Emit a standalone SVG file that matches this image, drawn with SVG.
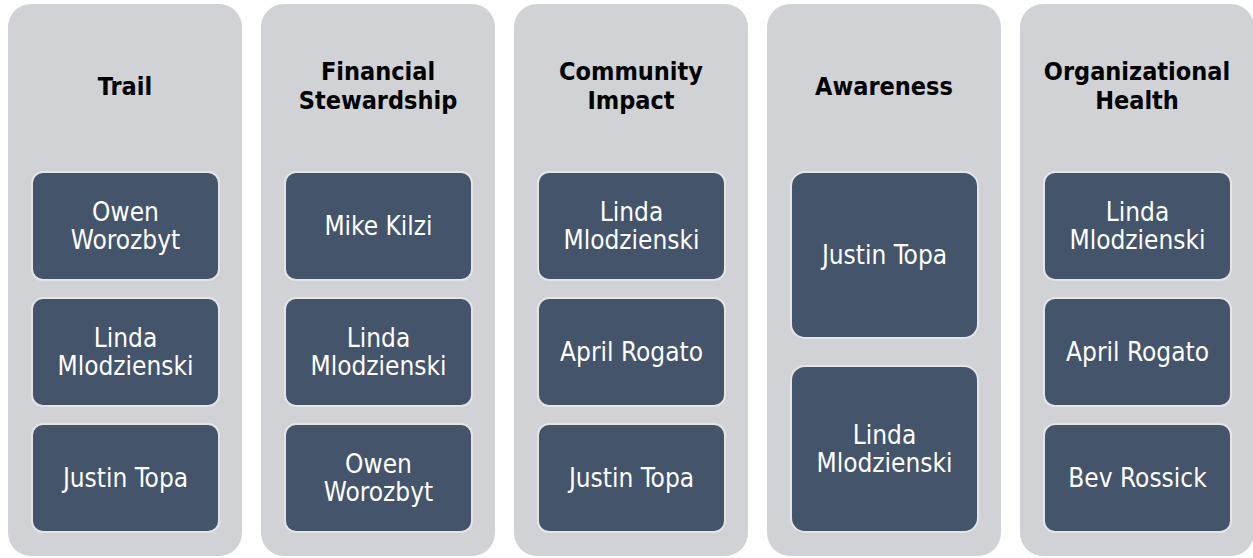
<svg xmlns="http://www.w3.org/2000/svg" width="1253" height="558" viewBox="0 0 1253 558">
<style>
.col{fill:#d0d2d6;}
.box{fill:#44546a;stroke:#e4e5e7;stroke-width:2;}
.title{font-family:"DejaVu Sans Condensed","DejaVu Sans",sans-serif;font-weight:bold;font-size:25px;fill:#000;text-anchor:middle;}
.name{font-family:"DejaVu Sans Condensed","DejaVu Sans",sans-serif;font-size:26px;fill:#fff;text-anchor:middle;}
</style>
<rect width="1253" height="558" fill="#ffffff"/>
<g id="col-trail">
<rect class="col" x="8" y="4" width="234" height="552" rx="23"/>
<text class="title" x="125" y="95">Trail</text>
</g>
<g id="trail-owen">
<rect class="box" x="32" y="172" width="187" height="108" rx="11"/>
<text class="name" x="125.5" y="221">Owen</text>
<text class="name" x="125.5" y="249">Worozbyt</text>
</g>
<g id="trail-linda">
<rect class="box" x="32" y="298" width="187" height="108" rx="11"/>
<text class="name" x="125.5" y="347">Linda</text>
<text class="name" x="125.5" y="375">Mlodzienski</text>
</g>
<g id="trail-justin">
<rect class="box" x="32" y="424" width="187" height="108" rx="11"/>
<text class="name" x="125.5" y="487">Justin Topa</text>
</g>

<g id="col-financial">
<rect class="col" x="261" y="4" width="234" height="552" rx="23"/>
<text class="title" x="378" y="80">Financial</text>
<text class="title" x="378" y="109">Stewardship</text>
</g>
<g id="fin-mike">
<rect class="box" x="285" y="172" width="187" height="108" rx="11"/>
<text class="name" x="378.5" y="235">Mike Kilzi</text>
</g>
<g id="fin-linda">
<rect class="box" x="285" y="298" width="187" height="108" rx="11"/>
<text class="name" x="378.5" y="347">Linda</text>
<text class="name" x="378.5" y="375">Mlodzienski</text>
</g>
<g id="fin-owen">
<rect class="box" x="285" y="424" width="187" height="108" rx="11"/>
<text class="name" x="378.5" y="473">Owen</text>
<text class="name" x="378.5" y="501">Worozbyt</text>
</g>

<g id="col-community">
<rect class="col" x="514" y="4" width="234" height="552" rx="23"/>
<text class="title" x="631" y="80">Community</text>
<text class="title" x="631" y="109">Impact</text>
</g>
<g id="com-linda">
<rect class="box" x="538" y="172" width="187" height="108" rx="11"/>
<text class="name" x="631.5" y="221">Linda</text>
<text class="name" x="631.5" y="249">Mlodzienski</text>
</g>
<g id="com-april">
<rect class="box" x="538" y="298" width="187" height="108" rx="11"/>
<text class="name" x="631.5" y="361">April Rogato</text>
</g>
<g id="com-justin">
<rect class="box" x="538" y="424" width="187" height="108" rx="11"/>
<text class="name" x="631.5" y="487">Justin Topa</text>
</g>

<g id="col-awareness">
<rect class="col" x="767" y="4" width="234" height="552" rx="23"/>
<text class="title" x="884" y="95">Awareness</text>
</g>
<g id="aw-justin">
<rect class="box" x="791" y="172" width="187" height="166" rx="14"/>
<text class="name" x="884.5" y="264">Justin Topa</text>
</g>
<g id="aw-linda">
<rect class="box" x="791" y="366" width="187" height="166" rx="14"/>
<text class="name" x="884.5" y="444">Linda</text>
<text class="name" x="884.5" y="472">Mlodzienski</text>
</g>

<g id="col-org">
<rect class="col" x="1020" y="4" width="234" height="552" rx="23"/>
<text class="title" x="1137" y="80">Organizational</text>
<text class="title" x="1137" y="109">Health</text>
</g>
<g id="org-linda">
<rect class="box" x="1044" y="172" width="187" height="108" rx="11"/>
<text class="name" x="1137.5" y="221">Linda</text>
<text class="name" x="1137.5" y="249">Mlodzienski</text>
</g>
<g id="org-april">
<rect class="box" x="1044" y="298" width="187" height="108" rx="11"/>
<text class="name" x="1137.5" y="361">April Rogato</text>
</g>
<g id="org-bev">
<rect class="box" x="1044" y="424" width="187" height="108" rx="11"/>
<text class="name" x="1137.5" y="487">Bev Rossick</text>
</g>
<g id="connectors"></g>
</svg>
